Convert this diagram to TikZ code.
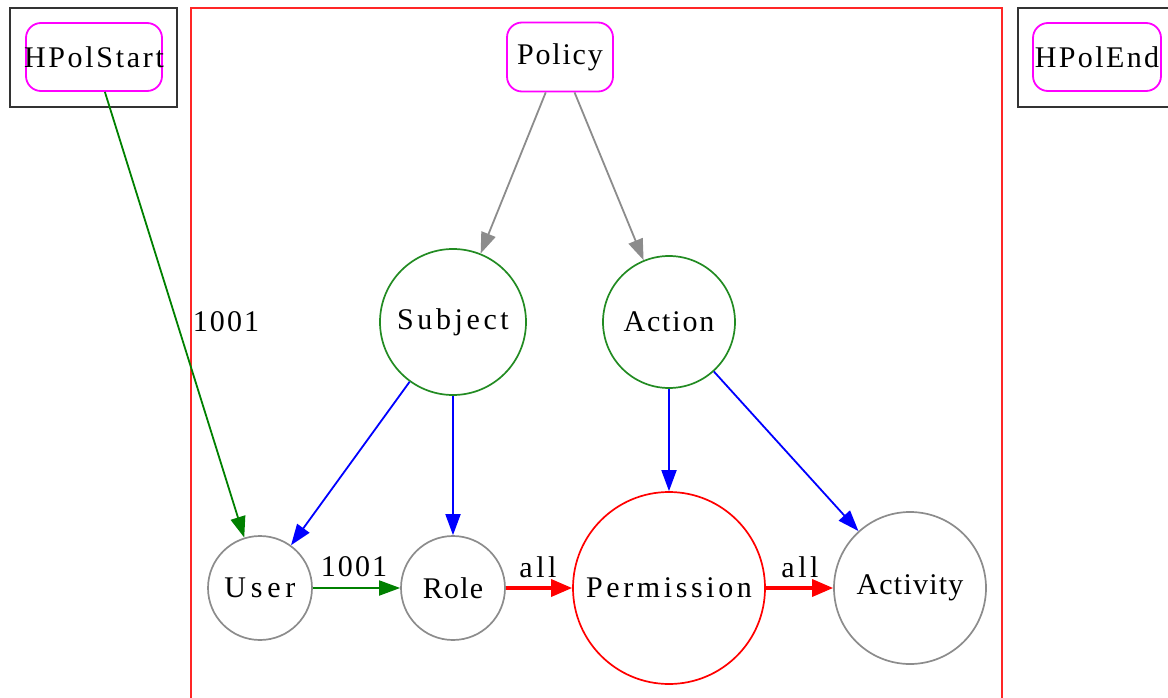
\documentclass[tikz,border=0pt]{standalone}
\usepackage{fontspec}
\setmainfont{Liberation Serif}[LetterSpace=12]
\usetikzlibrary{arrows.meta}
\definecolor{edgegreen}{RGB}{0,128,0}
\definecolor{forest}{RGB}{34,139,34}
\definecolor{midgray}{RGB}{140,140,140}
\definecolor{pinkframe}{RGB}{255,0,255}
\definecolor{brightred}{RGB}{255,0,0}
\definecolor{pure blue}{RGB}{0,0,255}
\tikzset{
  every node/.style={font=\fontsize{30}{34}\selectfont},
  tracking/.style={font=\fontsize{30}{34}\selectfont\addfontfeature{LetterSpace=#1}},
  roundbox/.style={draw=pinkframe, line width=1.8pt, rounded corners=15pt, inner sep=0pt},
  ring/.style={circle, inner sep=0pt, line width=1.7pt},
  thin arrow/.style={line width=1.8pt, -{Triangle[length=21pt,width=15pt]}},
  bold arrow/.style={line width=3.4pt, -{Triangle[length=21pt,width=17pt]}},
  elabel/.style={inner sep=1pt}
}
\begin{document}
\begin{tikzpicture}[x=1pt,y=-1pt]
\useasboundingbox (0,0) rectangle (1168,698);
% outer frames
\draw[line width=1.7pt, black!80] (10,8) rectangle (177,107);
\draw[line width=1.7pt, black!80] (1018,8) rectangle (1180,107);
\draw[line width=1.7pt, brightred!85] (191,710) -- (191,8) -- (1002,8) -- (1002,710);
% boxed nodes (text may run slightly past the frame)
\node[roundbox, tracking=9, minimum width=136pt, minimum height=68pt] (hps) at (94,57) {\makebox[120pt]{HPolStart}};
\node[roundbox, tracking=8, minimum width=128pt, minimum height=68pt] (hpe) at (1097,57) {\makebox[110pt]{HPolEnd}};
\node[roundbox, tracking=6, minimum width=106pt, minimum height=69pt] (policy) at (560,57) {\makebox[90pt]{Policy}};
% circular nodes
\node[ring, draw=forest, minimum size=146pt] (subject) at (453,322) {Subject};
\node[ring, tracking=6, draw=forest, minimum size=132pt] (action) at (669,322) {Action};
\node[ring, tracking=16, draw=midgray, minimum size=104pt] (user) at (260,588) {User};
\node[ring, tracking=4, draw=midgray, minimum size=104pt] (role) at (453,588) {Role};
\node[ring, draw=brightred, minimum size=192pt] (perm) at (669,588) {Permission};
\node[ring, tracking=4, draw=midgray, minimum size=152pt] (activity) at (910,588) {Activity};
% connectors
\draw[thin arrow, midgray] (policy) -- (subject);
\draw[thin arrow, midgray] (policy) -- (action);
\draw[thin arrow, pure blue] (subject) -- (user);
\draw[thin arrow, pure blue] (subject) -- (role);
\draw[thin arrow, pure blue] (action) -- (perm);
\draw[thin arrow, pure blue] (action) -- (activity);
\draw[thin arrow, edgegreen] (hps) -- (user);
\draw[thin arrow, edgegreen] (user) -- (role);
\draw[bold arrow, brightred] (role) -- (perm);
\draw[bold arrow, brightred] (perm) -- (activity);
% edge labels
\node[elabel, tracking=7] (l1) at (226,322) {1001};
\node[elabel, tracking=7] (l2) at (354,567) {1001};
\node[elabel] (l3) at (538,567) {all};
\node[elabel] (l4) at (800,567) {all};
\end{tikzpicture}
\end{document}
